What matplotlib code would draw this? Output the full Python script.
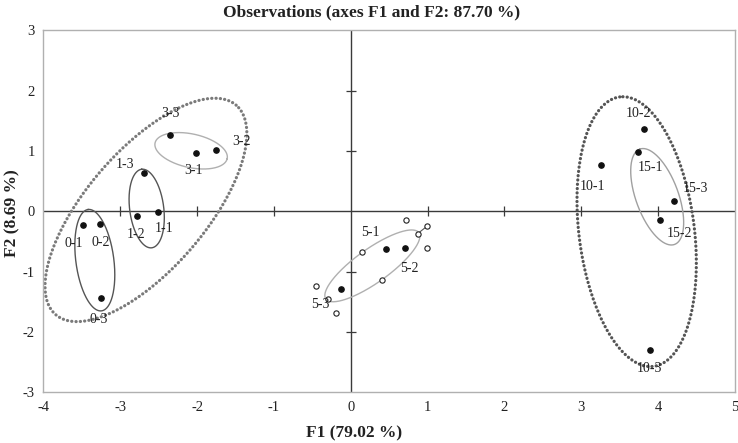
import numpy as np
import matplotlib
matplotlib.use('Agg')
import matplotlib.pyplot as plt

plt.rcParams['font.family'] = ['Liberation Serif', 'DejaVu Serif']
plt.rcParams['axes.unicode_minus'] = False

# observations (filled points) and their labels
labels = ['0-1', '0-2', '0-3', '1-1', '1-2', '1-3', '3-1', '3-2', '3-3',
          '5-1', '5-2', '5-3', '10-1', '10-2', '10-3', '15-1', '15-2', '15-3']
f1 = [-3.49, -3.26, -3.25, -2.51, -2.78, -2.69, -2.01, -1.75, -2.35,
      0.465, 0.70, -0.13, 3.25, 3.82, 3.89, 3.74, 4.02, 4.21]
f2 = [-0.23, -0.21, -1.43, -0.01, -0.08, 0.63, 0.96, 1.01, 1.27,
      -0.63, -0.61, -1.28, 0.77, 1.36, -2.30, 0.98, -0.15, 0.17]
# label positions
lab_x = [-3.61, -3.25, -3.28, -2.43, -2.80, -2.94, -2.04, -1.42, -2.34,
         0.26, 0.76, -0.39, 3.14, 3.75, 3.89, 3.90, 4.28, 4.49]
lab_y = [-0.54, -0.51, -1.79, -0.28, -0.39, 0.78, 0.67, 1.16, 1.62,
         -0.35, -0.94, -1.55, 0.41, 1.62, -2.60, 0.72, -0.36, 0.37]

# open (supplementary) points
open_x = [0.725, 0.99, 0.87, 0.99, 0.14, 0.41, -0.45, -0.30, -0.19]
open_y = [-0.14, -0.25, -0.37, -0.60, -0.68, -1.14, -1.23, -1.46, -1.69]

# ellipses: centre, semi-axis vector u, semi-axis vector v (data units)
ellipses = [
    ((-3.33, -0.81), (-0.087, 0.84), (0.245, 0.04), '#555555', '-', 1.0),
    ((-2.655, 0.046), (-0.065, 0.651), (0.22, 0.034), '#555555', '-', 1.0),
    ((-2.077, 1.003), (0.469, -0.131), (-0.048, -0.272), '#b0b0b0', '-', 1.0),
    ((0.281, -0.904), (0.605, 0.550), (-0.128, 0.227), '#b0b0b0', '-', 1.0),
    ((3.987, 0.241), (-0.226, 0.790), (-0.260, -0.121), '#a0a0a0', '-', 1.0),
    ((-2.665, 0.023), (1.174, 1.736), (-0.588, 0.643), '#7a7a7a', ':', 2.3),
    ((3.72, -0.337), (-0.219, 2.233), (-0.745, -0.118), '#555555', ':', 2.3),
]

fig = plt.figure(figsize=(7.38, 4.43), dpi=100)
ax = fig.add_axes([0.0587, 0.1144, 0.9373, 0.8172])
ax.set_xlim(-4, 5)
ax.set_ylim(-3, 3)

for sp in ax.spines.values():
    sp.set_color('#b0b0b0')
    sp.set_linewidth(1.0)
ax.tick_params(length=0, labelsize=10.5, colors='#222222', pad=6)
ax.set_xticks(range(-4, 6))
ax.set_yticks(range(-3, 4))

# central axes with cross ticks
ax.axhline(0, color='#3a3a3a', lw=1.0, zorder=1)
ax.axvline(0, color='#3a3a3a', lw=1.0, zorder=1)
xt = [v for v in range(-3, 5) if v != 0]
yt = [v for v in range(-2, 3) if v != 0]
ax.plot(xt, [0] * len(xt), ls='none', marker='|', ms=7, mew=0.9, color='#3a3a3a')
ax.plot([0] * len(yt), yt, ls='none', marker='_', ms=7, mew=0.9, color='#3a3a3a')

t = np.linspace(0, 2 * np.pi, 500)
for (c, u, v, col, ls, lw) in ellipses:
    ex = c[0] + u[0] * np.cos(t) + v[0] * np.sin(t)
    ey = c[1] + u[1] * np.cos(t) + v[1] * np.sin(t)
    if ls == ':':
        ax.plot(ex, ey, color=col, lw=lw, linestyle=(0, (0.05, 1.3)),
                dash_capstyle='round', zorder=2)
    else:
        ax.plot(ex, ey, color=col, lw=lw, zorder=2)

# small connector between two supplementary points
ax.plot(open_x[1:3], open_y[1:3], color='#555555', lw=0.8, zorder=2)
ax.plot(open_x, open_y, ls='none', marker='o', ms=3.8, mfc='white',
        mec='#222222', mew=0.8, zorder=3)
ax.plot(f1, f2, ls='none', marker='o', ms=3.8, color='#111111', zorder=4)

for lx, ly, s in zip(lab_x, lab_y, labels):
    ax.text(lx, ly, s, ha='center', va='center', fontsize=10, color='#222222', zorder=5)

fig.text(0.504, 0.973, 'Observations (axes F1 and F2: 87.70 %)', ha='center',
         va='center', fontsize=12.5, fontweight='bold', color='#222222')
fig.text(0.48, 0.022, 'F1 (79.02 %)', ha='center', va='center', fontsize=12.5,
         fontweight='bold', color='#222222')
fig.text(0.017, 0.52, 'F2 (8.69 %)', ha='center', va='center', rotation=90,
         fontsize=12.5, fontweight='bold', color='#222222')

fig.savefig('out.png', dpi=100)
